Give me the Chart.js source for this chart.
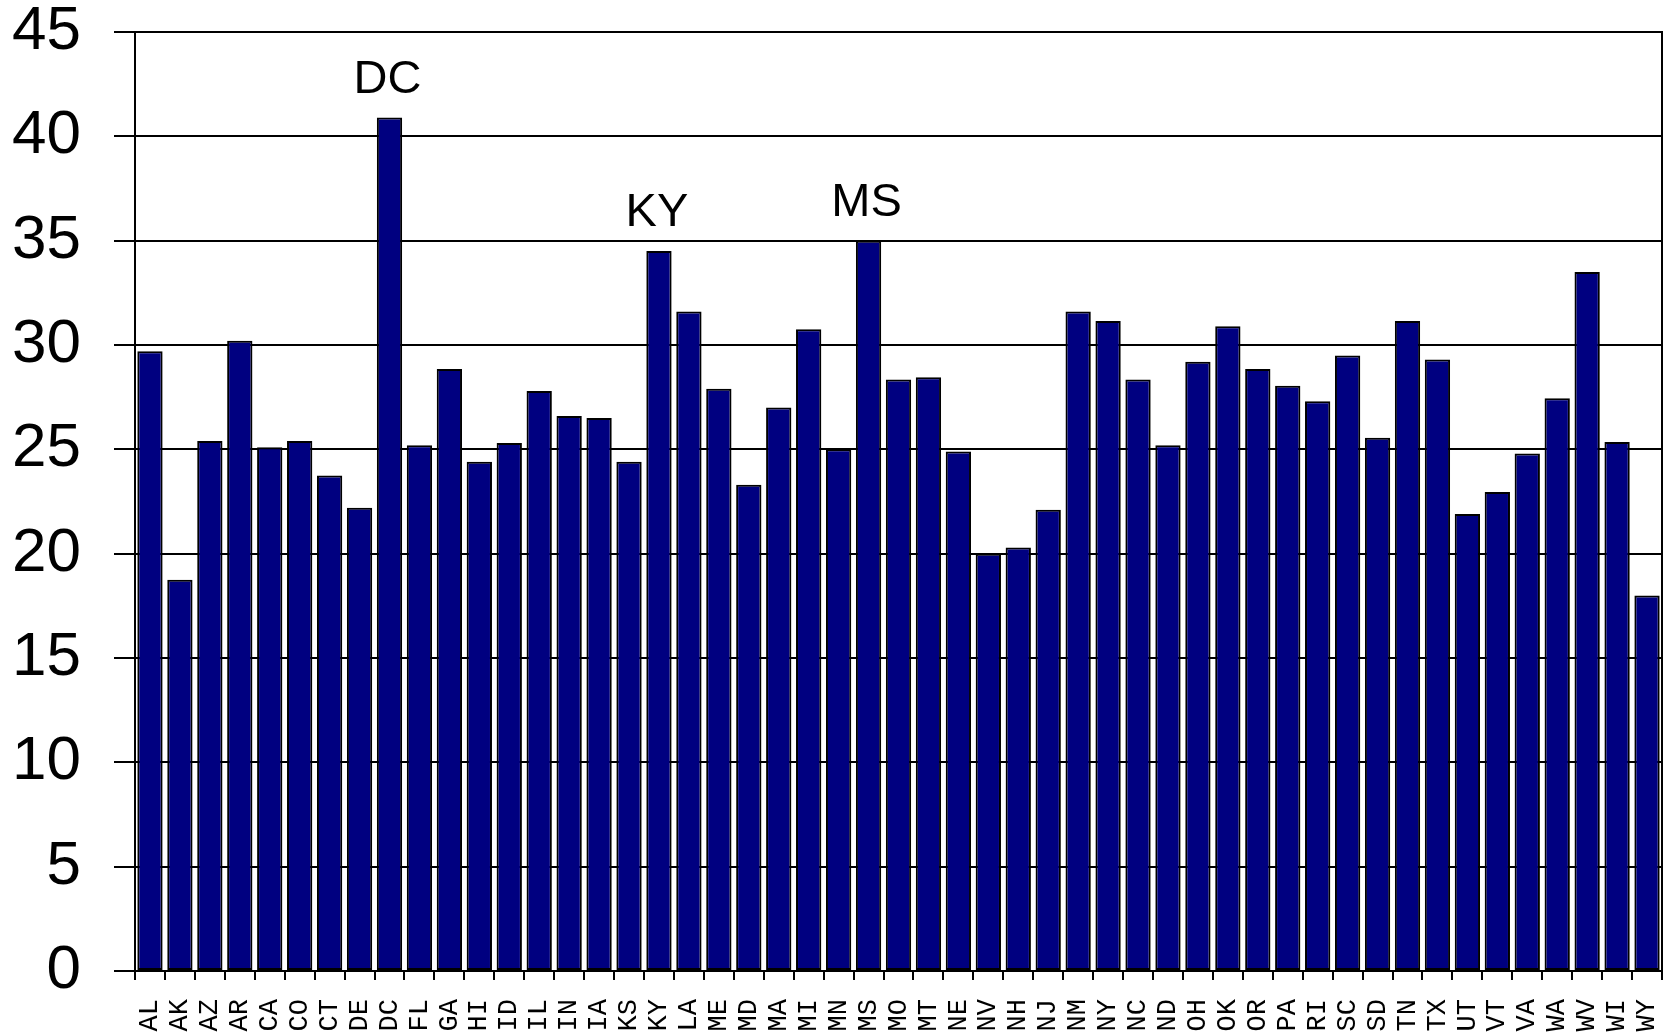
<!DOCTYPE html>
<html>
<head>
<meta charset="utf-8">
<script src="https://cdn.jsdelivr.net/npm/chart.js@4.4.1/dist/chart.umd.min.js"></script>
<style>
  html, body { margin: 0; padding: 0; background: #ffffff; }
  #wrap { width: 1667px; height: 1035px; position: relative; }
</style>
</head>
<body>
<div id="wrap"><canvas id="c"></canvas></div>
<script>
// Categories (state abbreviations)
const states = ['AL','AK','AZ','AR','CA','CO','CT','DE','DC','FL','GA','HI','ID','IL','IN','IA','KS','KY','LA','ME','MD','MA','MI','MN','MS','MO','MT','NE','NV','NH','NJ','NM','NY','NC','ND','OH','OK','OR','PA','RI','SC','SD','TN','TX','UT','VT','VA','WA','WV','WI','WY'];
// Series values
const values = [29.7,18.75,25.4,30.2,25.1,25.4,23.75,22.2,40.9,25.2,28.85,24.4,25.3,27.8,26.6,26.5,24.4,34.5,31.6,27.9,23.3,27.0,30.75,25.0,35.0,28.35,28.45,24.9,20.0,20.3,22.1,31.6,31.15,28.35,25.2,29.2,30.9,28.85,28.05,27.3,29.5,25.55,31.15,29.3,21.9,22.95,24.8,27.45,33.5,25.35,18.0];
// States annotated above their bars
const annotated = ['DC','KY','MS'];
// Y axis ticks
const yMin = 0, yMax = 45, yStep = 5;

const annotatePlugin = {
  id: 'annotate',
  afterDatasetsDraw(chart) {
    const ctx = chart.ctx;
    const xs = chart.scales.x, ys = chart.scales.y;
    ctx.save();
    ctx.font = '47px "Liberation Sans", Arial, sans-serif';
    ctx.fillStyle = '#000';
    ctx.textAlign = 'center';
    ctx.textBaseline = 'alphabetic';
    annotated.forEach(s => {
      const i = states.indexOf(s);
      ctx.fillText(s, xs.getPixelForValue(i) - 2, ys.getPixelForValue(values[i]) - 25);
    });
    ctx.restore();
  },
  afterDraw(chart) {
    const a = chart.chartArea, ctx = chart.ctx;
    ctx.save();
    ctx.strokeStyle = '#000';
    ctx.lineWidth = 2;
    ctx.beginPath();
    ctx.moveTo(a.right, a.top - 1);
    ctx.lineTo(a.right, a.bottom);
    ctx.stroke();
    ctx.restore();
  }
};

new Chart(document.getElementById('c'), {
  type: 'bar',
  data: {
    labels: states,
    datasets: [{
      data: values,
      backgroundColor: '#000080',
      borderColor: '#000000',
      borderWidth: 2,
      borderSkipped: false,
      barPercentage: 0.845,
      categoryPercentage: 1.0
    }]
  },
  options: {
    responsive: true,
    maintainAspectRatio: false,
    animation: false,
    layout: { padding: { top: 32, right: 5, bottom: 0, left: 12 } },
    plugins: { legend: { display: false }, tooltip: { enabled: false } },
    scales: {
      x: {
        offset: true,
        afterFit(scale) { scale.height = 64; scale.paddingLeft = 0; scale.paddingRight = 0; },
        grid: { display: true, drawOnChartArea: false, offset: true, tickLength: 9, color: '#000', lineWidth: 2 },
        border: { display: true, color: '#000', width: 2 },
        ticks: {
          autoSkip: false, maxRotation: 90, minRotation: 90,
          color: '#000', padding: 19,
          font: { family: '"Liberation Mono", "Courier New", monospace', size: 27, lineHeight: 1 }
        }
      },
      y: {
        min: yMin, max: yMax,
        afterFit(scale) { scale.width = 123; scale.paddingTop = 0; scale.paddingBottom = 0; },
        grid: { color: '#000', lineWidth: 2, tickLength: 21 },
        border: { display: true, color: '#000', width: 2 },
        ticks: {
          stepSize: yStep, color: '#000', padding: 33,
          font: { family: '"Liberation Sans", Arial, sans-serif', size: 62, lineHeight: 1 }
        }
      }
    }
  },
  plugins: [annotatePlugin]
});
</script>
</body>
</html>
